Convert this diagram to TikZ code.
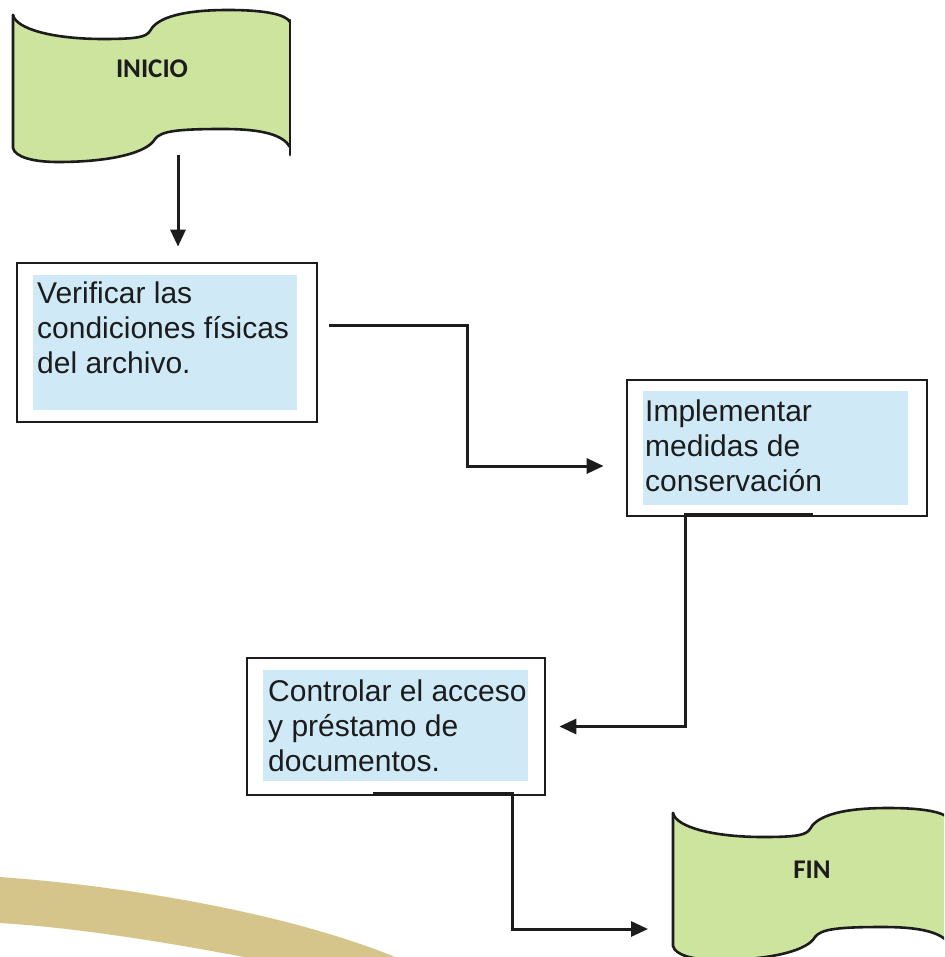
\documentclass[tikz,border=0pt]{standalone}
\usepackage{fontspec}
\setmainfont{Liberation Sans}
\newfontfamily\calib{Carlito}
\usetikzlibrary{arrows.meta,calc}
\definecolor{tapegreen}{RGB}{205,228,158}
\definecolor{boxblue}{RGB}{207,233,247}
\definecolor{swooshtan}{RGB}{214,197,138}
\definecolor{ink}{RGB}{28,28,28}
\tikzset{
  tapefill/.style={fill=tapegreen},
  tapeline/.style={draw=ink, line width=2.6pt, line join=round, line cap=round},
  tapelabel/.style={font=\calib\bfseries\fontsize{27}{30}\selectfont, text=ink, inner sep=0pt},
  stepbox/.style={draw=ink, line width=2.8pt, rectangle, inner sep=0pt},
  bluefill/.style={fill=boxblue},
  boxtext/.style={font=\fontsize{30}{35}\selectfont, text=ink, align=left, anchor=north west, inner sep=0pt},
  conn/.style={draw=ink, line width=3pt},
  arr/.style={conn, -{Triangle[length=17pt,width=15pt]}},
  pics/tapeshape/.style={code={
    \path[tapefill] (0,0) .. controls (3,14) and (40,24) .. (90,24)
      .. controls (125,24) and (133,22) .. (137,16)
      .. controls (142,6) and (160,-5) .. (215,-5)
      .. controls (255,-5) and (273,0) .. (277,7)
      -- (277,132)
      .. controls (270,120) and (250,114) .. (210,114)
      .. controls (165,114) and (148,116) .. (142,124)
      .. controls (135,137) and (100,147) .. (45,147)
      .. controls (20,147) and (2,142) .. (0,133) -- cycle;
    \draw[tapeline] (0,0) .. controls (3,14) and (40,24) .. (90,24)
      .. controls (125,24) and (133,22) .. (137,16)
      .. controls (142,6) and (160,-5) .. (215,-5)
      .. controls (255,-5) and (273,0) .. (277,7);
    \draw[tapeline] (277,5) -- (277,140);
    \draw[tapeline] (277,132)
      .. controls (270,120) and (250,114) .. (210,114)
      .. controls (165,114) and (148,116) .. (142,124)
      .. controls (135,137) and (100,147) .. (45,147)
      .. controls (20,147) and (2,142) .. (0,133) -- (0,0);
  }}
}
\begin{document}
\begin{tikzpicture}[x=1pt,y=-1pt]
\useasboundingbox (0,0) rectangle (944,957);
\fill[white] (0,0) rectangle (944,957);
% background swoosh
\fill[swooshtan] (0,877) .. controls (150,888) and (300,918) .. (395,957)
  -- (244,957) .. controls (170,943) and (80,928) .. (0,923) -- cycle;

% INICIO tape
\pic at (13,15) {tapeshape};
\node[tapelabel] (inicio) at (152,69) {INICIO};
\coordinate (inicio-out) at (178,155);

% FIN tape
\begin{scope}
\clip (0,0) rectangle (944,957);
\pic at (673,813) {tapeshape};
\end{scope}
\node[tapelabel] (fin) at (812,870) {FIN};
\coordinate (fin-in) at (648,929);

% Process boxes
\node[stepbox, minimum width=300pt, minimum height=159pt] (box1) at (167,342.5) {};
\fill[bluefill] (33,275) rectangle (297,410);
\node[boxtext] (t1) at (37,282) {Verificar las\\condiciones físicas\\del archivo.};

\node[stepbox, minimum width=300pt, minimum height=136pt] (box2) at (777,448) {};
\fill[bluefill] (643,391) rectangle (908,505);
\node[boxtext] (t2) at (645,400) {Implementar\\medidas de\\conservación};

\node[stepbox, minimum width=298pt, minimum height=137pt] (box3) at (396,726.5) {};
\fill[bluefill] (263,670) rectangle (528,781);
\node[boxtext] (t3) at (268,680) {Controlar el acceso\\y préstamo de\\documentos.};

% Connectors
\draw[arr] (inicio-out) -- ($(box1.north)+(11,-15)$);

\coordinate (c1s) at ($(box1.east)+(11,-17.5)$);
\coordinate (c1k) at (467,466);
\draw[arr] (c1s) -| (c1k) -- ($(box2.west)+(-22,18)$);

\coordinate (s2a) at ($(box2.south)+(36,-3)$);
\coordinate (s2b) at ($(box2.south)+(-92,-3)$);
\draw[arr] (s2a) -- (s2b) |- ($(box3.east)+(13,0)$);

\coordinate (s3a) at ($(box3.south)+(-23,-3)$);
\coordinate (s3b) at ($(box3.south)+(116,-3)$);
\draw[arr] (s3a) -- (s3b) |- (fin-in);
\end{tikzpicture}
\end{document}
